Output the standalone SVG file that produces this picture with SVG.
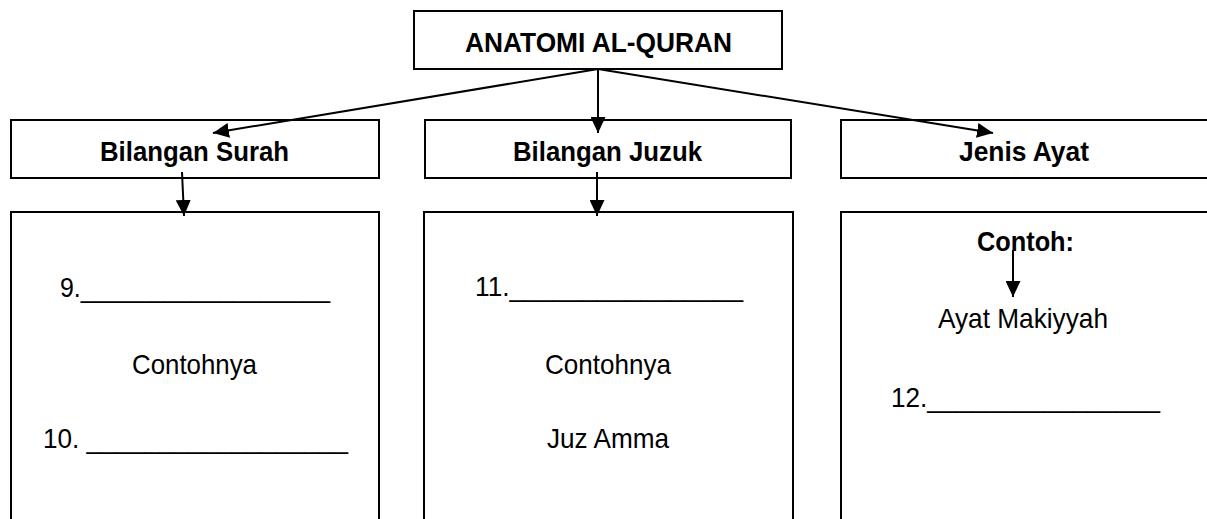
<svg xmlns="http://www.w3.org/2000/svg" width="1207" height="519" viewBox="0 0 1207 519">
<style>
.box{fill:#fff;stroke:#000;stroke-width:2}
.b{font-family:"Liberation Sans",Arial,sans-serif;font-weight:bold;font-size:28px;fill:#000}
.r{font-family:"Liberation Sans",Arial,sans-serif;font-size:28px;fill:#000}
.c{stroke:#000;stroke-width:2;fill:none;marker-end:url(#ah)}
</style>
<defs>
<marker id="ah" markerUnits="userSpaceOnUse" markerWidth="16" markerHeight="15" refX="16" refY="7.5" orient="auto">
<path d="M0,0 L16,7.5 L0,15 z" fill="#000"/>
</marker>
</defs>
<rect width="1207" height="519" fill="#fff"/>
<g id="root">
<rect class="box" x="414" y="11" width="368" height="58"/>
<text class="b" x="465" y="52" textLength="267" lengthAdjust="spacingAndGlyphs">ANATOMI AL-QURAN</text>
</g>
<g id="surah">
<rect class="box" x="11" y="120" width="368" height="58"/>
<text class="b" x="100" y="161" textLength="189" lengthAdjust="spacingAndGlyphs">Bilangan Surah</text>
</g>
<g id="juzuk">
<rect class="box" x="425" y="120" width="366" height="58"/>
<text class="b" x="513" y="161" textLength="189" lengthAdjust="spacingAndGlyphs">Bilangan Juzuk</text>
</g>
<g id="jenis">
<rect class="box" x="841" y="120" width="380" height="58"/>
<text class="b" x="959" y="161" textLength="130" lengthAdjust="spacingAndGlyphs">Jenis Ayat</text>
</g>
<g id="surah-detail">
<rect class="box" x="11" y="212" width="368" height="320"/>
<text class="r" x="60" y="297" textLength="270" lengthAdjust="spacingAndGlyphs">9.__________________</text>
<text class="r" x="132" y="374" textLength="125" lengthAdjust="spacingAndGlyphs">Contohnya</text>
<text class="r" x="43" y="448" textLength="305" lengthAdjust="spacingAndGlyphs">10. __________________</text>
</g>
<g id="juzuk-detail">
<rect class="box" x="424" y="212" width="369" height="320"/>
<text class="r" x="475" y="296" textLength="268" lengthAdjust="spacingAndGlyphs">11.________________</text>
<text class="r" x="545" y="374" textLength="126" lengthAdjust="spacingAndGlyphs">Contohnya</text>
<text class="r" x="547" y="448" textLength="122" lengthAdjust="spacingAndGlyphs">Juz Amma</text>
</g>
<g id="jenis-detail">
<rect class="box" x="841" y="212" width="380" height="320"/>
<text class="b" x="977" y="251" textLength="97" lengthAdjust="spacingAndGlyphs">Contoh:</text>
<text class="r" x="938" y="328" textLength="170" lengthAdjust="spacingAndGlyphs">Ayat Makiyyah</text>
<text class="r" x="891" y="407" textLength="269" lengthAdjust="spacingAndGlyphs">12.________________</text>
</g>
<g id="connectors">
<line class="c" x1="598" y1="69" x2="213" y2="133"/>
<line class="c" x1="598" y1="69" x2="598" y2="133"/>
<line class="c" x1="598" y1="69" x2="993" y2="133"/>
<line class="c" x1="182" y1="172" x2="184" y2="216"/>
<line class="c" x1="597" y1="172" x2="597" y2="216"/>
<line class="c" x1="1013" y1="250" x2="1013" y2="297"/>
</g>
</svg>
